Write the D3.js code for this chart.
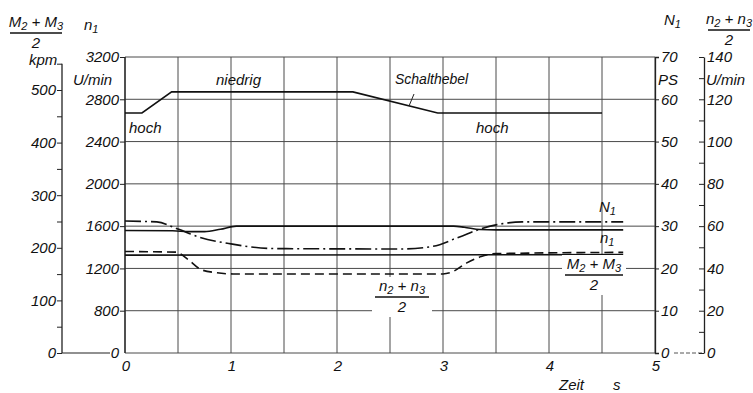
<!DOCTYPE html>
<html>
<head>
<meta charset="utf-8">
<script src="https://cdn.jsdelivr.net/npm/d3@7/dist/d3.min.js"></script>
<style>
  body { margin: 0; background: #fff; }
  svg text { font-family: "Liberation Sans", Arial, sans-serif; font-style: italic; fill: #111; }
</style>
</head>
<body>
<div id="chart"></div>
<script>
// time axis (s)
var timeTicks = [0, 1, 2, 3, 4, 5];

// Schalthebel position, drawn on the n1 scale (U/min)
var leverT = [0, 0.16, 0.44, 2.15, 2.95, 4.5];
var leverN = [2670, 2670, 2870, 2870, 2670, 2670];

// n1 (U/min)
var n1T = [0, 0.45, 0.6, 0.75, 0.9, 1.05, 3.1, 3.2, 3.35, 3.5, 4.7];
var n1V = [1558, 1556, 1548, 1548, 1570, 1600, 1600, 1590, 1568, 1565, 1565];

// N1 (PS)
var N1T = [0, 0.3, 0.5, 0.7, 1.0, 1.4, 2.6, 2.9, 3.15, 3.35, 3.5, 3.75, 4.7];
var N1V = [31.2, 31, 29.3, 27.4, 25.8, 24.7, 24.6, 25.2, 27.4, 29.3, 30.3, 31, 31];

// (n2+n3)/2 (U/min)
var n23T = [0, 0.48, 0.6, 0.72, 0.86, 1.02, 3.0, 3.08, 3.22, 3.36, 3.5, 4.7];
var n23V = [48, 47.7, 44, 39.4, 38, 37.4, 37.4, 38.2, 42.5, 45.6, 47, 47.6];

// (M2+M3)/2 (kpm)
var mT = [0, 4.7];
var mV = [186, 187];

var n1Ticks = [800, 1200, 1600, 2000, 2400, 2800, 3200];
var N1Ticks = [0, 10, 20, 30, 40, 50, 60, 70];
var n23Ticks = d3.range(0, 141, 10);
var mTicks = d3.range(0, 551, 50);

var width = 753, height = 393;
var plotLeft = 125, plotRight = 655, plotTop = 57, plotBottom = 353;

var svg = d3.select("#chart").append("svg")
  .attr("width", width).attr("height", height);

var x = d3.scaleLinear().domain([0, 5]).range([plotLeft, plotRight]);
var yN1 = d3.scaleLinear().domain([0, 70]).range([plotBottom, plotTop]);
var yn1 = d3.scaleLinear().domain([800, 3200]).range([310.7, plotTop]);   // axis broken below 800
var yn23 = d3.scaleLinear().domain([0, 140]).range([plotBottom, plotTop]);
var yM = d3.scaleLinear().domain([0, 550]).range([plotBottom, 63.7]);

var gridColor = "#4a4a4a";

// grid
svg.append("g").selectAll("line")
  .data(N1Ticks)
  .enter().append("line")
  .attr("x1", plotLeft).attr("x2", plotRight)
  .attr("y1", function(d) { return yN1(d); })
  .attr("y2", function(d) { return yN1(d); })
  .style("stroke", gridColor).style("stroke-width", 1);

svg.append("g").selectAll("line")
  .data(d3.range(0, 5.01, 0.5))
  .enter().append("line")
  .attr("x1", function(d) { return x(d); })
  .attr("x2", function(d) { return x(d); })
  .attr("y1", plotTop).attr("y2", plotBottom)
  .style("stroke", gridColor).style("stroke-width", 1);

// baseline stubs out to the outer axes
svg.append("line").attr("x1", 62).attr("x2", 110).attr("y1", plotBottom).attr("y2", plotBottom)
  .style("stroke", "#222").style("stroke-width", 1.2);
svg.append("line").attr("x1", 674).attr("x2", 704).attr("y1", plotBottom).attr("y2", plotBottom)
  .style("stroke", "#555").style("stroke-width", 1).style("stroke-dasharray", "4,2");

function styleAxis(g) {
  g.attr("font-family", null).attr("font-size", null);
  g.selectAll("text").style("font-size", "15px");
  g.selectAll("line").style("stroke", "#222");
  g.select(".domain").style("stroke", "#222").style("stroke-width", 1.3);
}

// M axis, far left
svg.append("g")
  .attr("transform", "translate(62,0)")
  .call(d3.axisLeft(yM).tickValues(mTicks).tickSize(5).tickPadding(1)
    .tickFormat(function(d) { return d % 100 === 0 && d <= 500 ? d : ""; }))
  .call(function(g) { g.select(".domain").attr("d", "M0," + yM(550) + "V" + plotBottom); })
  .call(styleAxis);

// n1 axis
var n1Axis = svg.append("g")
  .attr("transform", "translate(" + plotLeft + ",0)")
  .call(d3.axisLeft(yn1).tickValues(n1Ticks).tickSize(5).tickPadding(1).tickFormat(d3.format("d")))
  .call(function(g) { g.select(".domain").attr("d", "M0," + plotTop + "V" + plotBottom); })
  .call(styleAxis);
n1Axis.append("text").attr("x", -6).attr("y", plotBottom + 5)
  .attr("text-anchor", "end").style("font-size", "15px").text("0");

// N1 axis, right of plot
svg.append("g")
  .attr("transform", "translate(" + plotRight + ",0)")
  .call(d3.axisRight(yN1).tickValues(N1Ticks).tickSize(4).tickPadding(2))
  .call(styleAxis);

// (n2+n3)/2 axis, far right
svg.append("g")
  .attr("transform", "translate(704,0)")
  .call(d3.axisRight(yn23).tickValues(n23Ticks).tickSizeInner(-5).tickSizeOuter(0).tickPadding(3)
    .tickFormat(function(d) { return d % 20 === 0 ? d : ""; }))
  .call(styleAxis);

// time labels
svg.append("g").selectAll("text")
  .data(timeTicks)
  .enter().append("text")
  .attr("x", function(d) { return x(d) + 1; })
  .attr("y", 371)
  .attr("text-anchor", "middle")
  .style("font-size", "15px")
  .text(function(d) { return d; });

svg.append("text").attr("x", 559).attr("y", 390).style("font-size", "15px").text("Zeit");
svg.append("text").attr("x", 613).attr("y", 390).style("font-size", "15px").text("s");

// curves
function draw(ts, vs, ys, dash, curve) {
  var gen = d3.line()
    .x(function(d) { return x(d[0]); })
    .y(function(d) { return ys(d[1]); })
    .curve(curve);
  svg.append("path")
    .datum(d3.zip(ts, vs))
    .attr("d", gen)
    .style("fill", "none")
    .style("stroke", "#111")
    .style("stroke-width", 1.6)
    .style("stroke-dasharray", dash);
}

draw(leverT, leverN, yn1, null, d3.curveLinear);
draw(n1T, n1V, yn1, null, d3.curveMonotoneX);
draw(mT, mV, yM, null, d3.curveLinear);
draw(N1T, N1V, yN1, "16,4,2,4", d3.curveMonotoneX);
draw(n23T, n23V, yn23, "9,5", d3.curveMonotoneX);

// leader from Schalthebel to the lever line
svg.append("line").attr("x1", 414).attr("x2", 409).attr("y1", 94).attr("y2", 106)
  .style("stroke", "#222").style("stroke-width", 1);

function label(tx, ty, text, size) {
  svg.append("text").attr("x", tx).attr("y", ty)
    .style("font-size", (size || 15) + "px").text(text);
}

label(129, 133, "hoch");
label(216, 85, "niedrig");
label(395, 84, "Schalthebel", 14);
label(476, 133, "hoch");

// fraction label  (a2 + b3) / 2
function fraction(cx, ty, a, b, barW, bg) {
  var g = svg.append("g");
  if (bg) {
    g.append("rect").attr("x", cx - barW / 2 - 3).attr("y", ty - 14)
      .attr("width", barW + 6).attr("height", 40).style("fill", "#fff");
  }
  var t = g.append("text").attr("x", cx).attr("y", ty)
    .attr("text-anchor", "middle").style("font-size", "15px");
  t.append("tspan").text(a);
  t.append("tspan").attr("dy", 3).style("font-size", "11px").text("2");
  t.append("tspan").attr("dy", -3).text(" + " + b);
  t.append("tspan").attr("dy", 3).style("font-size", "11px").text("3");
  g.append("line").attr("x1", cx - barW / 2).attr("x2", cx + barW / 2)
    .attr("y1", ty + 6).attr("y2", ty + 6)
    .style("stroke", "#111").style("stroke-width", 1.3);
  g.append("text").attr("x", cx).attr("y", ty + 21)
    .attr("text-anchor", "middle").style("font-size", "15px").text("2");
}

fraction(36, 27, "M", "M", 52, false);
fraction(729, 24, "n", "n", 42, false);
fraction(402, 291, "n", "n", 54, true);
fraction(594, 269, "M", "M", 58, true);

// axis titles
function sub(tx, ty, a, s) {
  var t = svg.append("text").attr("x", tx).attr("y", ty).style("font-size", "15px");
  t.append("tspan").text(a);
  t.append("tspan").attr("dy", 3).style("font-size", "11px").text(s);
}

sub(84, 30, "n", "1");
sub(664, 25, "N", "1");
sub(599, 212, "N", "1");
sub(600, 243, "n", "1");

label(29, 65, "kpm");
label(73, 85, "U/min");
label(658, 85, "PS");
label(706, 85, "U/min");
</script>
</body>
</html>
